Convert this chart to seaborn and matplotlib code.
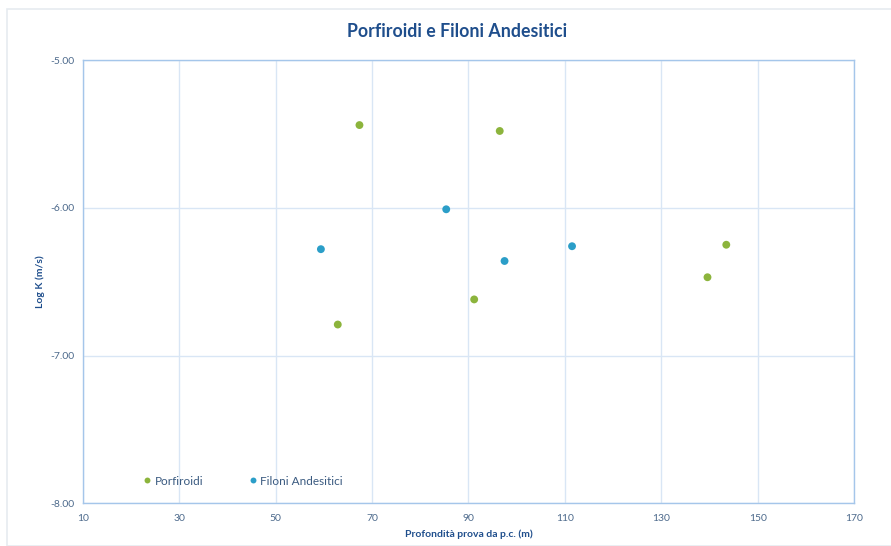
import matplotlib
matplotlib.use("Agg")
import matplotlib.pyplot as plt
import seaborn as sns
import pandas as pd

# Porfiroidi
porf_depth = [67.4, 96.5, 91.2, 62.9, 139.6, 143.5]
porf_logk = [-5.44, -5.48, -6.62, -6.79, -6.47, -6.25]
# Filoni Andesitici
andes_depth = [85.4, 59.4, 97.5, 111.5]
andes_logk = [-6.01, -6.28, -6.36, -6.26]

series_names = ["Porfiroidi", "Filoni Andesitici"]
x_ticks = [10, 30, 50, 70, 90, 110, 130, 150, 170]
y_ticks = [-5.0, -6.0, -7.0, -8.0]

df = pd.DataFrame({
    "depth": porf_depth + andes_depth,
    "logk": porf_logk + andes_logk,
    "serie": [series_names[0]] * len(porf_depth) + [series_names[1]] * len(andes_depth),
})

sns.set_theme(style="white")
plt.rcParams["font.family"] = ["Lato", "DejaVu Sans"]

label_col = "#4d6a8c"
title_col = "#1f4e8c"
axis_col = "#a5c6ea"
grid_col = "#d9e6f5"
palette = {"Porfiroidi": "#8cb43c", "Filoni Andesitici": "#2b9ec8"}

fig = plt.figure(figsize=(8.91, 5.46), dpi=100)
# light chart frame
fig.patches.append(plt.Rectangle((7 / 891, 0.0), 1, 1 - 9 / 546, transform=fig.transFigure,
                                 fill=False, edgecolor="#e6ebf0", linewidth=1.2))
ax = fig.add_axes([0.0929, 0.0782, 0.8656, 0.8118])

sns.scatterplot(data=df, x="depth", y="logk", hue="serie", palette=palette,
                s=32, edgecolor="none", ax=ax, zorder=3)

ax.set_xlim(10, 170)
ax.set_ylim(-8.0, -5.0)
ax.set_xticks(x_ticks)
ax.set_yticks(y_ticks)
ax.set_xticklabels([str(t) for t in x_ticks])
ax.set_yticklabels([f"{t:.2f}" for t in y_ticks])
ax.tick_params(axis="both", length=0, labelsize=7.5, colors=label_col)
ax.tick_params(axis="x", pad=8)
ax.tick_params(axis="y", pad=6)
ax.grid(True, color=grid_col, linewidth=1.0, zorder=0)
ax.set_axisbelow(True)
for sp in ax.spines.values():
    sp.set_color(axis_col)
    sp.set_linewidth(1.0)

ax.set_xlabel("Profondità prova da p.c. (m)", fontsize=7.5, fontweight="bold",
              color=title_col, labelpad=4)
ax.set_ylabel("Log K (m/s)", fontsize=7.5, fontweight="bold", color=title_col, labelpad=4)

fig.suptitle("Porfiroidi e Filoni Andesitici", x=0.513, y=0.958, fontsize=12.8,
             fontweight="bold", color=title_col)

handles, labels = ax.get_legend_handles_labels()
leg = ax.legend(handles, labels, loc="lower left", bbox_to_anchor=(0.073, 0.027), ncol=2,
                frameon=False, fontsize=8.5, handlelength=0.6, handletextpad=0.35,
                columnspacing=3.85, markerscale=0.75, title=None, borderaxespad=0)
for t in leg.get_texts():
    t.set_color("#3a5a80")

fig.savefig("out.png", dpi=100, facecolor="white")
